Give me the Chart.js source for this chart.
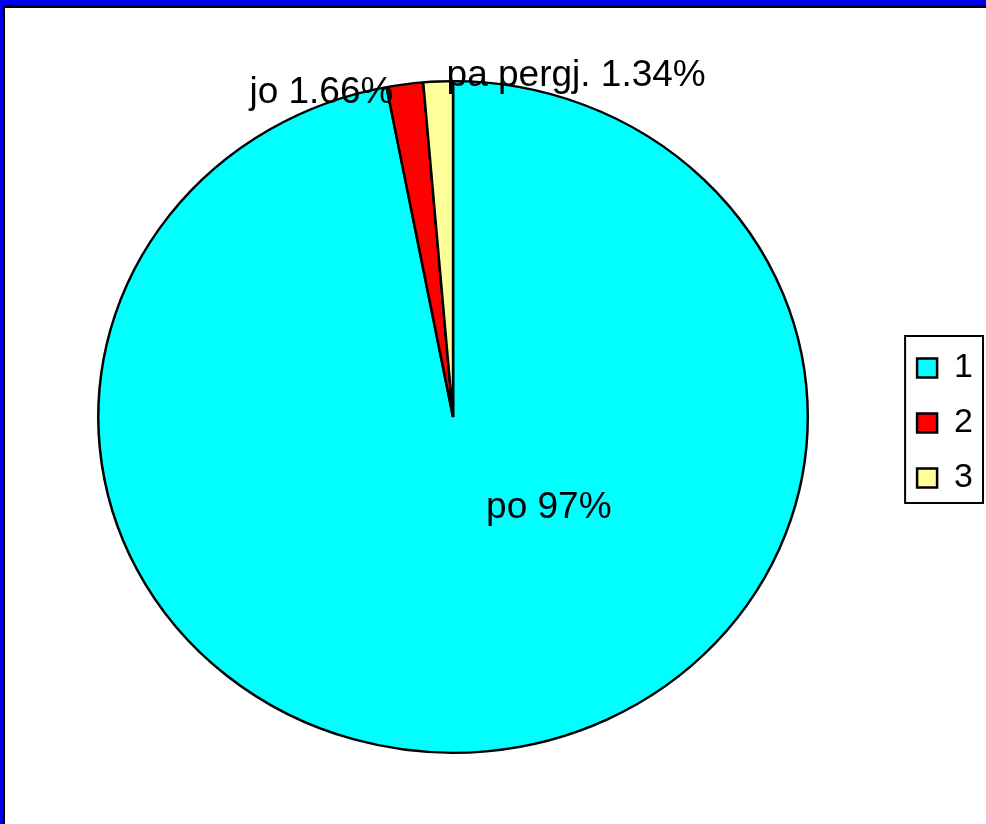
<!DOCTYPE html>
<html>
<head>
<meta charset="utf-8">
<script src="https://cdn.jsdelivr.net/npm/chart.js@4.4.0/dist/chart.umd.min.js"></script>
<style>
  html, body { margin: 0; padding: 0; background: #fff; }
  #wrap { position: relative; width: 986px; height: 824px; overflow: hidden; }
  #chart { position: absolute; left: 0; top: 0; }
  /* frame around the plot, only top and left edges are visible in the picture */
  #frame { position: absolute; left: 0; top: 0; width: 986px; height: 824px; box-sizing: border-box;
           border-top: 5px solid #0000ee; border-left: 3px solid #0000ee; pointer-events: none; }
  #frame div { width: 100%; height: 100%; box-sizing: border-box;
               border-top: 3px solid #000; border-left: 2px solid #000; }
</style>
</head>
<body>
<div id="wrap">
  <canvas id="chart" width="986" height="824"></canvas>
  <div id="frame"><div></div></div>
</div>
<script>
// Data
const categories = ['1', '2', '3'];
const sliceNames = ['po', 'jo', 'pa pergj.'];
const values = [97, 1.66, 1.34];
const colors = ['#00ffff', '#ff0000', '#ffff99'];

// label placement relative to the pie centre, in fractions of the radii
const labelPos = [[0.27, 0.27], [-0.371, -0.964], [0.347, -1.015]];
const yRatio = 337 / 356;  // the pie is drawn slightly squashed

// squash the pie vertically around its centre
const ellipsePlugin = {
    id: 'ellipse',
    beforeDatasetsDraw(chart) {
        const arc = chart.getDatasetMeta(0).data[0];
        const ctx = chart.ctx;
        ctx.save();
        ctx.translate(arc.x, arc.y);
        ctx.scale(1, yRatio);
        ctx.translate(-arc.x, -arc.y);
    },
    afterDatasetsDraw(chart) {
        chart.ctx.restore();
        // slice labels
        const ctx = chart.ctx;
        const arc = chart.getDatasetMeta(0).data[0];
        const rx = arc.outerRadius;
        const ry = arc.outerRadius * yRatio;
        ctx.save();
        ctx.font = '37px "Liberation Sans", Arial, sans-serif';
        ctx.fillStyle = '#000';
        ctx.textAlign = 'center';
        ctx.textBaseline = 'middle';
        values.forEach((v, i) => {
            const x = arc.x + labelPos[i][0] * rx;
            const y = arc.y + labelPos[i][1] * ry;
            ctx.fillText(sliceNames[i] + ' ' + v + '%', x, y);
        });
        ctx.restore();
    }
};

// box around the legend
const legendBoxPlugin = {
    id: 'legendBox',
    afterDraw(chart) {
        const boxes = chart.legend.legendHitBoxes;
        if (!boxes || !boxes.length) return;
        const first = boxes[0];
        const last = boxes[boxes.length - 1];
        const ctx = chart.ctx;
        ctx.save();
        ctx.strokeStyle = '#000';
        ctx.lineWidth = 2;
        ctx.strokeRect(first.left - 12, first.top - 15,
            first.width + 22, last.top + last.height - first.top + 23);
        ctx.restore();
    }
};

const ctx = document.getElementById('chart').getContext('2d');
new Chart(ctx, {
    type: 'pie',
    data: {
        labels: categories,
        datasets: [{
            data: values,
            backgroundColor: colors,
            borderColor: '#000',
            borderWidth: 2.5
        }]
    },
    options: {
        responsive: false,
        animation: false,
        layout: { padding: { left: 10, right: 3, top: 61, bottom: 51 } },
        plugins: {
            tooltip: { enabled: false },
            legend: {
                position: 'right',
                align: 'center',
                // empty title only nudges the items down a little
                title: { display: true, text: ' ', padding: 0, font: { size: 10 } },
                labels: {
                    color: '#000',
                    font: { family: '"Liberation Sans", Arial, sans-serif', size: 34 },
                    boxWidth: 20,
                    boxHeight: 19,
                    padding: 21
                }
            }
        }
    },
    plugins: [ellipsePlugin, legendBoxPlugin]
});
</script>
</body>
</html>
